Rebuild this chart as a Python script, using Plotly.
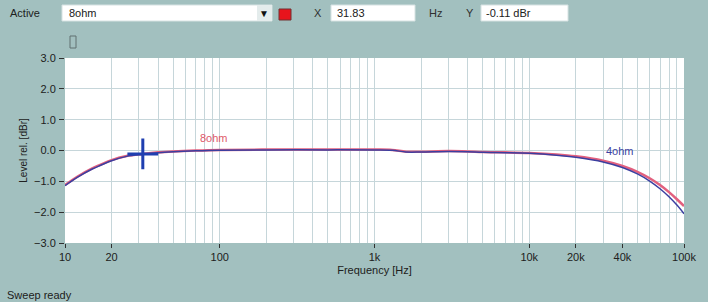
import math
import plotly.graph_objects as go

# ---- data ----
freq = [10, 12, 15, 17, 20, 25, 31.83, 40, 50, 70, 100, 200, 500, 1000, 1300, 1600,
        2000, 3000, 4000, 5000, 7000, 10000, 15000, 20000, 30000, 40000, 50000,
        60000, 70000, 80000, 90000, 100000]
ohm8 = [-1.12, -0.85, -0.58, -0.46, -0.31, -0.18, -0.11, -0.06, -0.03, 0.0, 0.02, 0.03,
        0.03, 0.03, 0.02, -0.04, -0.04, -0.02, -0.03, -0.05, -0.06, -0.08, -0.13,
        -0.19, -0.33, -0.5, -0.69, -0.9, -1.12, -1.35, -1.58, -1.8]
ohm4 = [-1.14, -0.87, -0.6, -0.48, -0.33, -0.19, -0.12, -0.07, -0.04, -0.01, 0.01, 0.02,
        0.02, 0.02, 0.01, -0.05, -0.05, -0.03, -0.04, -0.06, -0.07, -0.09, -0.15,
        -0.22, -0.37, -0.55, -0.76, -0.99, -1.24, -1.5, -1.77, -2.05]
cursor_x = [31.83]
cursor_y = [-0.11]
label_8ohm = (92, 0.42)
label_4ohm = (38600, 0.0)
x_tickvals = [10, 20, 100, 1000, 10000, 20000, 40000, 100000]
x_ticktext = ["10", "20", "100", "1k", "10k", "20k", "40k", "100k"]
y_tickvals = [3, 2, 1, 0, -1, -2, -3]
minor_vals = [m * 10 ** d for d in range(1, 5) for m in range(2, 10)]

BG = "#a2c0bf"
GRID = "#c6d6da"
RED = "#e2607e"
BLUE = "#3b3fa0"
FONT = "Liberation Sans, Arial, sans-serif"

W, H = 708, 302
L, R, T, B = 65, 684, 58, 243


def px(x):
    return (x - L) / (R - L)


def py(y):
    return (B - y) / (B - T)


fig = go.Figure()
fig.add_trace(go.Scatter(x=freq, y=ohm8, mode="lines", name="8ohm",
                         line=dict(color=RED, width=2.5, shape="spline")))
fig.add_trace(go.Scatter(x=freq, y=ohm4, mode="lines", name="4ohm",
                         line=dict(color=BLUE, width=1.5, shape="spline")))
fig.add_trace(go.Scatter(x=cursor_x, y=cursor_y, mode="markers",
                         marker=dict(symbol="cross-thin", size=22,
                                     line=dict(color="#1f3fb0", width=3))))

fig.add_annotation(x=math.log10(label_8ohm[0]), y=label_8ohm[1], xref="x", yref="y",
                   text="8ohm", showarrow=False,
                   font=dict(color="#e05a6a", size=11, family=FONT))
fig.add_annotation(x=math.log10(label_4ohm[0]), y=label_4ohm[1], xref="x", yref="y",
                   text="4ohm", showarrow=False,
                   font=dict(color=BLUE, size=11, family=FONT))

shapes = []
# dropdown box
shapes.append(dict(type="rect", xref="paper", yref="paper", x0=px(62), x1=px(272),
                   y0=py(21), y1=py(5), fillcolor="white", line=dict(color="#d6e2e2", width=1)))
shapes.append(dict(type="rect", xref="paper", yref="paper", x0=px(257), x1=px(272),
                   y0=py(21), y1=py(5), fillcolor="#e4ecec", line=dict(width=0)))
# red square
shapes.append(dict(type="rect", xref="paper", yref="paper", x0=px(279), x1=px(291),
                   y0=py(20), y1=py(9), fillcolor="#e8141c", line=dict(color="#703030", width=1)))
# X box
shapes.append(dict(type="rect", xref="paper", yref="paper", x0=px(331), x1=px(415),
                   y0=py(21), y1=py(5), fillcolor="white", line=dict(color="#d6e2e2", width=1)))
# Y box
shapes.append(dict(type="rect", xref="paper", yref="paper", x0=px(481), x1=px(568),
                   y0=py(21), y1=py(5), fillcolor="white", line=dict(color="#d6e2e2", width=1)))
# tiny icon
shapes.append(dict(type="rect", xref="paper", yref="paper", x0=px(70), x1=px(76),
                   y0=py(48), y1=py(36), fillcolor="rgba(0,0,0,0)",
                   line=dict(color="#607070", width=1)))

fig.update_layout(shapes=shapes)

top_texts = [
    (8, 13, "Active", "left", "#202020"),
    (67, 13, "8ohm", "left", "#202020"),
    (264, 13, "▼", "center", "#101010"),
    (318, 13, "X", "center", "#303030"),
    (335, 13, "31.83", "left", "#202020"),
    (427, 13, "Hz", "left", "#303030"),
    (470, 13, "Y", "center", "#303030"),
    (484, 13, "-0.11 dBr", "left", "#202020"),
    (5, 295, "Sweep ready", "left", "#202020"),
]
for x, y, t, anc, col in top_texts:
    fig.add_annotation(x=px(x), y=py(y), xref="paper", yref="paper", text=t,
                       showarrow=False, xanchor=anc, yanchor="middle",
                       font=dict(size=11 if t != "▼" else 10, color=col, family=FONT))

fig.update_layout(
    width=W, height=H,
    margin=dict(l=L, r=W - R, t=T, b=H - B),
    paper_bgcolor=BG, plot_bgcolor="white",
    showlegend=False,
    font=dict(family=FONT, size=11, color="#202020"),
    xaxis=dict(type="log", range=[1, 5], tickvals=x_tickvals, ticktext=x_ticktext,
               showgrid=True, gridcolor=GRID, gridwidth=1, zeroline=False,
               ticks="outside", ticklen=4, tickcolor="#303030",
               minor=dict(tickvals=minor_vals, showgrid=True, gridcolor=GRID, ticklen=0),
               title=dict(text="Frequency [Hz]", standoff=4, font=dict(size=11)),
               showline=False),
    yaxis=dict(range=[-3, 3], tickvals=y_tickvals, tickformat=".1f",
               showgrid=True, gridcolor=GRID, gridwidth=1, zeroline=False,
               ticks="outside", ticklen=5, tickcolor="#303030", ticklabelstandoff=1,
               title=dict(text="Level rel. [dBr]", standoff=4, font=dict(size=10)),
               showline=False),
)

fig.write_html("out.html")
